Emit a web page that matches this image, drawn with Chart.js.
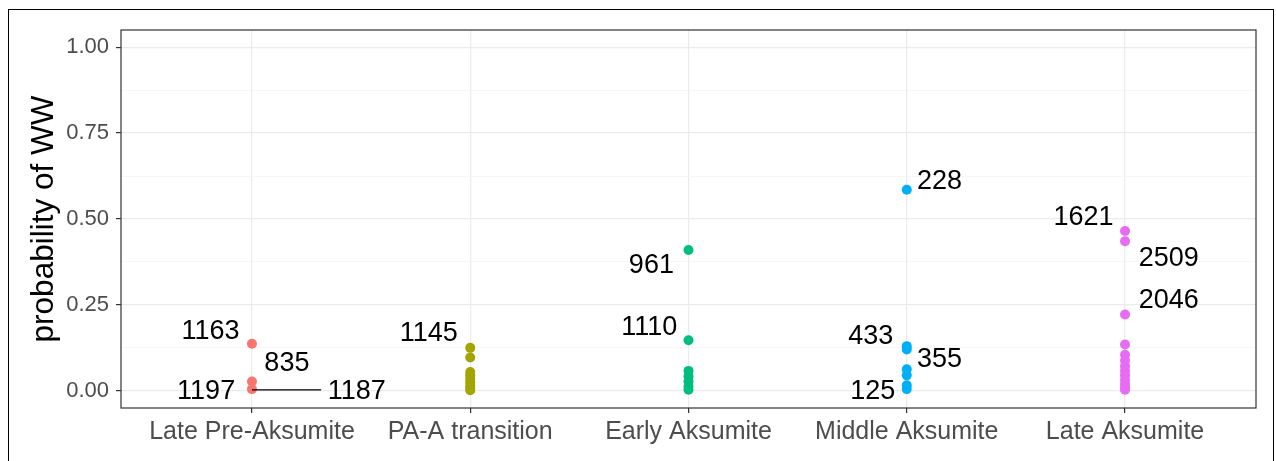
<!DOCTYPE html>
<html><head><meta charset="utf-8">
<script src="https://cdn.jsdelivr.net/npm/chart.js@4/dist/chart.umd.min.js"></script>
<style>
html,body{margin:0;padding:0;background:#fff;}
#wrap{position:relative;width:1276px;height:461px;overflow:hidden;}
#frame{position:absolute;left:8px;top:9px;width:1266px;height:460px;border:1px solid #000;box-sizing:border-box;pointer-events:none;}
canvas{position:absolute;left:0;top:0;}
</style></head><body>
<div id="wrap"><canvas id="c" width="1276" height="461"></canvas><div id="frame"></div></div>
<script>
const categories = ['Late Pre-Aksumite', 'PA-A transition', 'Early Aksumite', 'Middle Aksumite', 'Late Aksumite'];
const colors = ['#F8766D', '#A3A500', '#00BF7D', '#00B0F6', '#E76BF3'];
const latePreAksumite = [0.137, 0.027, 0.005];
const paTransition = [0.125, 0.097, 0.055, 0.045, 0.035, 0.025, 0.015, 0.008, 0.002];
const earlyAksumite = [0.41, 0.147, 0.058, 0.042, 0.027, 0.013, 0.003];
const middleAksumite = [0.585, 0.13, 0.12, 0.063, 0.045, 0.016, 0.005];
const lateAksumite = [0.465, 0.435, 0.222, 0.135, 0.105, 0.088, 0.072, 0.058, 0.045, 0.032, 0.02, 0.01, 0.003];
const yTicks = [0, 0.25, 0.5, 0.75, 1];
const yMinorTicks = [0.125, 0.375, 0.625, 0.875];
const labelTexts = ['1163', '835', '1197', '1187', '1145', '961', '1110', '228', '433', '355', '125', '1621', '2509', '2046'];
const labelCats = [1, 1, 1, 1, 2, 3, 3, 4, 4, 4, 4, 5, 5, 5];
const labelY = [0.172, 0.078, -0.003, -0.003, 0.166, 0.366, 0.183, 0.61, 0.157, 0.09, -0.003, 0.503, 0.384, 0.262];
const labelDx = [-0.19, 0.16, -0.21, 0.48, -0.19, -0.17, -0.18, 0.15, -0.165, 0.15, -0.156, -0.19, 0.2, 0.2];
// segment from point to label 1187
const segCat = 1, segY = 0.003, segDx = 0.317;

const series = [latePreAksumite, paTransition, earlyAksumite, middleAksumite, lateAksumite];
const FONT = "'Liberation Sans', Arial, sans-serif";

const overlay = {
  id: 'overlay',
  afterDatasetsDraw(chart) {
    const ctx = chart.ctx, xs = chart.scales.x, ys = chart.scales.y;
    ctx.save();
    ctx.strokeStyle = '#000'; ctx.lineWidth = 1.2;
    ctx.beginPath();
    ctx.moveTo(xs.getPixelForValue(segCat), ys.getPixelForValue(segY));
    ctx.lineTo(xs.getPixelForValue(segCat + segDx), ys.getPixelForValue(segY));
    ctx.stroke();
    ctx.fillStyle = '#000';
    ctx.font = '27px ' + FONT;
    ctx.textAlign = 'center'; ctx.textBaseline = 'middle';
    labelTexts.forEach((t, i) => {
      ctx.fillText(t, xs.getPixelForValue(labelCats[i] + labelDx[i]), ys.getPixelForValue(labelY[i]));
    });
    ctx.restore();
  },
  afterDraw(chart) {
    const ctx = chart.ctx, a = chart.chartArea;
    ctx.save();
    ctx.strokeStyle = '#333'; ctx.lineWidth = 1.2;
    ctx.strokeRect(a.left, a.top, a.right - a.left, a.bottom - a.top);
    ctx.fillStyle = '#000';
    ctx.font = '31.5px ' + FONT;
    ctx.textAlign = 'center'; ctx.textBaseline = 'middle';
    ctx.translate(44, (a.top + a.bottom) / 2);
    ctx.rotate(-Math.PI / 2);
    ctx.fillText('probability of WW', 0, 0);
    ctx.restore();
  }
};

new Chart(document.getElementById('c'), {
  type: 'scatter',
  data: {
    datasets: series.map((vals, i) => ({
      label: categories[i],
      data: vals.map(v => ({ x: i + 1, y: v })),
      backgroundColor: colors[i],
      borderColor: colors[i],
      pointRadius: 5,
      pointBorderWidth: 0,
      pointHoverRadius: 5
    }))
  },
  options: {
    responsive: false,
    animation: false,
    devicePixelRatio: 1,
    layout: { padding: { top: 30, right: 20, left: 0, bottom: 0 } },
    plugins: { legend: { display: false }, tooltip: { enabled: false } },
    scales: {
      x: {
        type: 'linear', min: 0.4, max: 5.6,
        afterBuildTicks: s => { s.ticks = [1, 2, 3, 4, 5].map(v => ({ value: v })); },
        afterFit: s => { s.height = 53; },
        ticks: { callback: v => categories[v - 1], font: { family: FONT, size: 25 }, color: '#4D4D4D', autoSkip: false, maxRotation: 0, padding: 4 },
        grid: { color: '#EBEBEB', lineWidth: 1.2, tickColor: '#333', tickLength: 5 },
        border: { display: false }
      },
      y: {
        min: -0.05, max: 1.05,
        afterBuildTicks: s => { s.ticks = yTicks.concat(yMinorTicks).sort((a, b) => a - b).map(v => ({ value: v })); },
        afterFit: s => { s.width = 121; },
        ticks: { callback: v => yTicks.includes(v) ? v.toFixed(2) : '', font: { family: FONT, size: 22 }, color: '#4D4D4D', padding: 7 },
        grid: {
          color: c => yTicks.includes(c.tick.value) ? '#EBEBEB' : '#F4F4F4',
          lineWidth: c => yTicks.includes(c.tick.value) ? 1.2 : 0.8,
          tickColor: c => yTicks.includes(c.tick.value) ? '#333' : 'rgba(0,0,0,0)',
          tickLength: 5
        },
        border: { display: false }
      }
    }
  },
  plugins: [overlay]
});
</script>
</body></html>
